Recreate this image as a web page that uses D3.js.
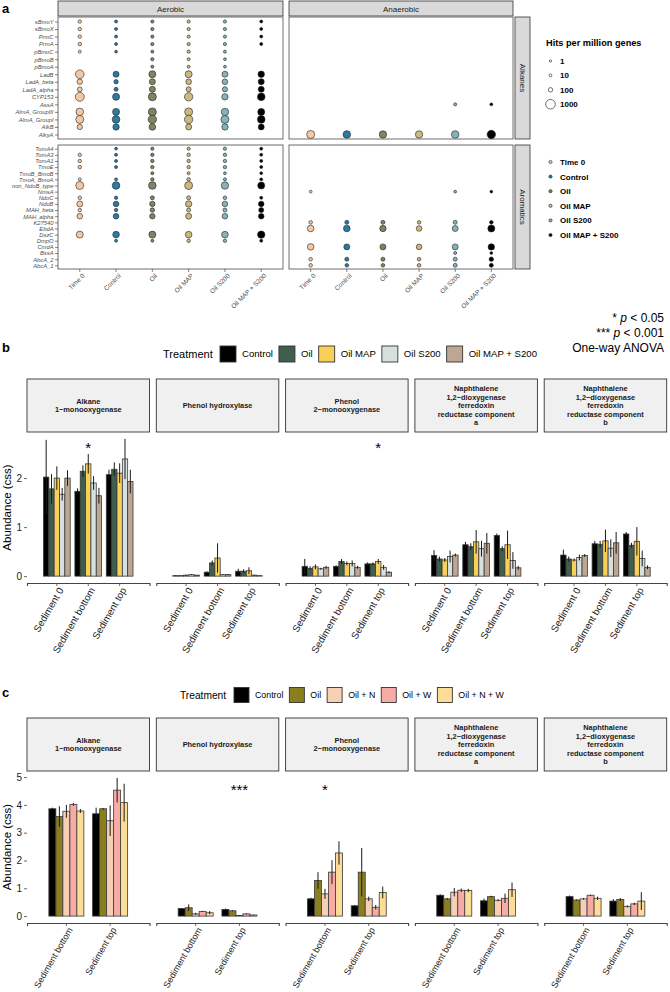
<!DOCTYPE html>
<html><head><meta charset="utf-8">
<script src="https://cdn.jsdelivr.net/npm/d3@7"></script>
<style>body{margin:0;background:#fff}svg{display:block}</style>
</head><body><svg id="chart" width="670" height="992"></svg>
<script>
// ---------------- DATA: panel a ----------------
const dotTreatments = ["Time 0","Control","Oil","Oil MAP","Oil S200","Oil MAP + S200"];
const dotColors = ["#F4C8A3","#2B7BA1","#7E8562","#CDB87F","#86B3B8","#000000"];
const conditions = ["Aerobic","Anaerobic"];
const geneGroups = ["Alkanes","Aromatics"];
const sizeBreaks = [1,10,100,1000];
const alkaneGenes = ["sBmoY","sBmoX","PrmC","PrmA","pBmoC","pBmoB","pBmoA","LadB","LadA_beta","LadA_alpha","CYP153","AssA","AlmA_GroupIII","AlmA_GroupI","AlkB","AlkyA"];
const aromaticGenes = ["TomA4","TomA3","TomA1","TmoE","TmoB_BmoB","TmoA_BmoA","non_NdoB_type","NmsA","NdoC","NdoB","MAH_beta","MAH_alpha","K27540","EbdA","DszC","DmpO","CmdA","BssA","AbcA_2","AbcA_1"];
// hits per million genes; rows = genes, columns = dotTreatments; null = not detected
const aerobicAlkanes = [
 [34,17,25,25,25,17],[34,17,25,25,25,17],[34,17,25,25,25,17],[44,17,25,25,25,17],
 [17,11,17,25,17,null],[null,null,25,17,11,null],[null,null,17,17,11,null],
 [754,277,433,433,277,335],[200,100,277,224,224,277],[136,69,277,156,177,277],
 [848,433,623,709,335,543],[null,null,null,null,null,null],
 [543,433,623,623,505,433],[623,543,709,709,623,543],[200,335,366,277,335,277],
 [null,null,null,null,null,null]];
const anaerobicAlkanes = [
 [null,null,null,null,null,null],[null,null,null,null,null,null],[null,null,null,null,null,null],[null,null,null,null,null,null],
 [null,null,null,null,null,null],[null,null,null,null,null,null],[null,null,null,null,null,null],
 [null,null,null,null,null,null],[null,null,null,null,null,null],[null,null,null,null,null,null],
 [null,null,null,null,null,null],[null,null,null,null,20,15],
 [null,null,null,null,null,null],[null,null,null,null,null,null],[null,null,null,null,null,null],
 [623,543,505,505,543,709]];
const aerobicAromatics = [
 [null,11,25,25,30,17],[34,17,34,34,34,17],[34,17,34,34,34,17],[44,17,34,34,34,17],
 [null,null,17,17,11,11],[17,17,34,44,25,17],[623,543,543,623,505,433],
 [null,null,null,null,null,null],[44,34,69,69,44,17],[277,224,200,335,224,224],
 [34,34,100,69,69,156],[224,224,200,277,224,224],[null,null,null,null,null,null],
 [null,null,null,null,null,null],[433,366,433,366,366,505],[null,17,17,44,34,17],
 [null,null,null,null,null,null],[null,null,null,null,null,null],[null,null,null,null,null,null],[null,null,null,null,null,null]];
const anaerobicAromatics = [
 [null,null,null,null,null,null],[null,null,null,null,null,null],[null,null,null,null,null,null],[null,null,null,null,null,null],
 [null,null,null,null,null,null],[null,null,null,null,null,null],[null,null,null,null,null,null],
 [11,null,null,null,11,8],[null,null,null,null,null,null],[null,null,null,null,null,null],
 [null,null,null,null,null,null],[null,null,null,null,null,null],[44,69,69,44,69,44],
 [366,366,335,224,277,433],[null,null,null,null,null,null],[null,null,null,null,null,null],
 [366,277,277,224,277,335],[null,null,null,null,17,11],[44,69,69,44,69,100],[44,44,44,44,69,69]];

// ---------------- DATA: panels b and c ----------------
const enzymes = [["Alkane","1\u2212monooxygenase"],["Phenol hydroxylase"],["Phenol","2\u2212monooxygenase"],
 ["Naphthalene","1,2\u2212dioxygenase","ferredoxin","reductase component","a"],
 ["Naphthalene","1,2\u2212dioxygenase","ferredoxin","reductase component","b"]];
const bTreatments = ["Control","Oil","Oil MAP","Oil S200","Oil MAP + S200"];
const bColors = ["#000000","#3F5E4D","#F8CF58","#D6E0DF","#BEA792"];
const bSites = ["Sediment 0","Sediment bottom","Sediment top"];
// [enzyme][site][treatment]
const bMean = [
 [[2.02,1.78,2.0,1.67,2.0],[1.73,2.14,2.29,1.9,1.64],[2.07,2.18,2.1,2.39,1.93]],
 [[0.01,0.01,0.02,0.03,0.02],[0.08,0.27,0.37,0.03,0.03],[0.1,0.1,0.11,0.02,0.01]],
 [[0.2,0.16,0.19,0.15,0.18],[0.2,0.3,0.26,0.26,0.18],[0.25,0.25,0.3,0.18,0.08]],
 [[0.42,0.35,0.33,0.4,0.43],[0.64,0.6,0.7,0.56,0.67],[0.83,0.56,0.64,0.32,0.17]],
 [[0.43,0.35,0.33,0.38,0.42],[0.66,0.65,0.72,0.57,0.68],[0.86,0.63,0.71,0.36,0.18]]];
const bSE = [
 [[0.76,0.3,0.24,0.13,0.16],[0.06,0.12,0.2,0.14,0.16],[0.1,0.14,0.2,0.41,0.24]],
 [[0.005,0.005,0.01,0.01,0.005],[0.02,0.05,0.3,0.01,0.01],[0.05,0.04,0.07,0.01,0.005]],
 [[0.15,0.04,0.05,0.02,0.03],[0.02,0.05,0.04,0.06,0.03],[0.03,0.03,0.05,0.05,0.02]],
 [[0.11,0.05,0.04,0.12,0.03],[0.06,0.07,0.24,0.16,0.21],[0.04,0.05,0.29,0.17,0.04]],
 [[0.11,0.05,0.03,0.06,0.03],[0.06,0.07,0.23,0.18,0.22],[0.04,0.05,0.29,0.16,0.04]]];
const bSignif = [{enzyme:0, site:"Sediment bottom", label:"*"},{enzyme:2, site:"Sediment top", label:"*"}];

const cTreatments = ["Control","Oil","Oil + N","Oil + W","Oil + N + W"];
const cColors = ["#000000","#8B7E1F","#F6CFB4","#F6ACA5","#FDDC98"];
const cSites = ["Sediment bottom","Sediment top"];
const cMean = [
 [[3.86,3.58,3.77,4.02,3.78],[3.68,3.86,3.43,4.53,4.08]],
 [[0.27,0.3,0.08,0.17,0.12],[0.24,0.19,0.02,0.08,0.04]],
 [[0.62,1.28,0.8,1.58,2.27],[0.37,1.58,0.62,0.32,0.85]],
 [[0.75,0.62,0.86,0.93,0.92],[0.55,0.7,0.57,0.64,0.95]],
 [[0.7,0.58,0.62,0.75,0.64],[0.54,0.6,0.35,0.44,0.54]]];
const cSE = [
 [[0.04,0.37,0.23,0.05,0.07],[0.22,0.03,0.55,0.44,0.68]],
 [[0.02,0.12,0.04,0.02,0.06],[0.03,0.02,0.01,0.02,0.01]],
 [[0.04,0.3,0.18,0.43,0.42],[0.03,0.87,0.08,0.08,0.21]],
 [[0.03,0.03,0.15,0.06,0.06],[0.08,0.03,0.04,0.17,0.26]],
 [[0.04,0.02,0.03,0.02,0.06],[0.07,0.05,0.04,0.04,0.32]]];
const cSignif = [{enzyme:1, site:"Sediment top", label:"***"},{enzyme:2, site:"Sediment bottom", label:"*"}];

// ---------------- DRAWING ----------------
const FONT = "'Liberation Sans', Arial, Helvetica, sans-serif";
const svg = d3.select("#chart").style("font-family", FONT);

// panel labels
[["a",13],["b",352],["c",697]].forEach(([t,y]) => svg.append("text").attr("x",2).attr("y",y)
  .attr("font-size",13).attr("font-weight","bold").text(t));

// ===== Panel a =====
const condX = [[58,283],[289,513]];
const groupY = [[17,139],[145,269]];
const groupGenes = [alkaneGenes, aromaticGenes];
const groupData = [[aerobicAlkanes, anaerobicAlkanes],[aerobicAromatics, anaerobicAromatics]];
const rScale = d3.scaleSqrt().domain([0,1000]).range([1,4.8]);
const aG = svg.append("g");

conditions.forEach((cond, ci) => {
  const [x0,x1] = condX[ci];
  const xs = d3.scalePoint().domain(dotTreatments).range([x0,x1]).padding(0.6);
  aG.append("rect").attr("x",x0).attr("y",1).attr("width",x1-x0).attr("height",15)
    .attr("fill","#D9D9D9").attr("stroke","#333").attr("stroke-width",0.8);
  aG.append("text").attr("x",(x0+x1)/2).attr("y",11.5).attr("text-anchor","middle")
    .attr("font-size",8).attr("fill","#1a1a1a").text(cond);
  geneGroups.forEach((grp, gi) => {
    const [y0,y1] = groupY[gi];
    const ys = d3.scalePoint().domain(groupGenes[gi]).range([y0,y1]).padding(0.6);
    const g = aG.append("g");
    g.append("rect").attr("x",x0).attr("y",y0).attr("width",x1-x0).attr("height",y1-y0)
      .attr("fill","#fff").attr("stroke","#6e6e6e").attr("stroke-width",1);
    const pts = [];
    groupGenes[gi].forEach((gene, ri) => dotTreatments.forEach((t, ti) => {
      const v = groupData[gi][ci][ri][ti];
      if (v != null) pts.push({gene, t, ti, v});
    }));
    g.selectAll("circle").data(pts).join("circle")
      .attr("cx",d=>xs(d.t)).attr("cy",d=>ys(d.gene)).attr("r",d=>rScale(d.v))
      .attr("fill",d=>dotColors[d.ti]).attr("stroke","#222").attr("stroke-width",0.6);
    if (ci === 0) {
      const ax = g.append("g").attr("transform",`translate(${x0},0)`)
        .call(d3.axisLeft(ys).tickSize(3).tickPadding(1.5));
      ax.select(".domain").remove();
      ax.selectAll(".tick line").attr("stroke","#333").attr("stroke-width",0.6);
      ax.selectAll(".tick text").attr("font-size",5.8).attr("font-style","italic")
        .attr("fill","#4d4d4d").attr("font-family",FONT);
    }
    if (gi === 1) {
      g.selectAll(".xt").data(dotTreatments).join("line").attr("class","xt")
        .attr("x1",d=>xs(d)).attr("x2",d=>xs(d)).attr("y1",y1).attr("y2",y1+3)
        .attr("stroke","#333").attr("stroke-width",0.6);
      g.selectAll(".xl").data(dotTreatments).join("text").attr("class","xl")
        .attr("transform",d=>`translate(${xs(d)+2},${y1+4}) rotate(-45)`)
        .attr("dy","0.71em").attr("text-anchor","end").attr("font-size",6.5)
        .attr("fill","#4d4d4d").text(d=>d);
    }
    if (ci === 1) {
      aG.append("rect").attr("x",515).attr("y",y0).attr("width",15).attr("height",y1-y0)
        .attr("fill","#D9D9D9").attr("stroke","#333").attr("stroke-width",0.8);
      aG.append("text").attr("transform",`translate(519.5,${(y0+y1)/2}) rotate(90)`)
        .attr("text-anchor","middle").attr("font-size",8).attr("fill","#1a1a1a").text(grp);
    }
  });
});

// legends for panel a
const lg = svg.append("g").attr("font-weight","bold");
lg.append("text").attr("x",546).attr("y",46).attr("font-size",9.2).text("Hits per million genes");
sizeBreaks.forEach((b,i) => {
  const y = 61 + i*14.4;
  lg.append("circle").attr("cx",550.5).attr("cy",y).attr("r",rScale(b)).attr("fill","#fff")
    .attr("stroke","#333").attr("stroke-width",0.7);
  lg.append("text").attr("x",560).attr("y",y+3).attr("font-size",8).text(b);
});
dotTreatments.forEach((t,i) => {
  const y = 162 + i*14.6;
  lg.append("circle").attr("cx",550.5).attr("cy",y).attr("r",1.6).attr("fill",dotColors[i])
    .attr("stroke","#222").attr("stroke-width",0.6);
  lg.append("text").attr("x",560).attr("y",y+3).attr("font-size",8).text(t);
});

// significance note
const sg = svg.append("g").attr("font-size",12).attr("text-anchor","end");
[["*","0.05",322],["***","0.001",337]].forEach(([s,p,y]) => {
  const t = sg.append("text").attr("x",664).attr("y",y);
  t.append("tspan").text(s+" ");
  t.append("tspan").attr("font-style","italic").text("p");
  t.append("tspan").text(" < "+p);
});
sg.append("text").attr("x",664).attr("y",352).text("One-way ANOVA");

// ===== Bar panels b and c =====
function barPanel(o) {
  const g = svg.append("g");
  // legend
  g.append("text").attr("x",o.legX).attr("y",o.legY+4).attr("font-size",o.legTitleSize).text("Treatment");
  let lx = o.legX + o.legTitleW;
  o.treatments.forEach((t,i) => {
    g.append("rect").attr("x",lx).attr("y",o.legY-o.key/2).attr("width",o.key).attr("height",o.key)
      .attr("fill",o.colors[i]).attr("stroke","#333").attr("stroke-width",0.9);
    const tx = g.append("text").attr("x",lx+o.key+6).attr("y",o.legY+3.3).attr("font-size",o.legSize).text(t);
    lx += o.key + 6 + tx.node().getComputedTextLength() + 6;
  });
  const maxV = d3.max(o.mean.flat(2).map((m,k)=>m + o.se.flat(2)[k]));
  const y = d3.scaleLinear().domain([-0.05*maxV, maxV*1.05]).range([o.py1, o.py0]);
  const fx0 = 27, fstep = 129.3, fw = 122.5;
  enzymes.forEach((enz, ei) => {
    const x0 = fx0 + ei*fstep, x1 = x0 + fw;
    // strip
    g.append("rect").attr("x",x0).attr("y",o.sy0).attr("width",fw).attr("height",o.py0-o.sy0)
      .attr("fill","#F0F0F0").attr("stroke","#333").attr("stroke-width",0.9);
    const sc = (o.sy0+o.py0)/2;
    enz.forEach((line, li) => g.append("text").attr("x",(x0+x1)/2)
      .attr("y", sc + (li - (enz.length-1)/2)*8.6 + 2.6).attr("text-anchor","middle")
      .attr("font-size",7.4).attr("font-weight","bold").attr("fill","#1a1a1a").text(line));
    const xb = d3.scaleBand().domain(o.sites).range([x0,x1]).paddingInner(1-o.bw).paddingOuter((1.2-(1-o.bw))/2);
    const xt = d3.scaleBand().domain(o.treatments).range([0, xb.bandwidth()]);
    const bars = [];
    o.sites.forEach((s,si) => o.treatments.forEach((t,ti) =>
      bars.push({s,t,ti,m:o.mean[ei][si][ti],e:o.se[ei][si][ti]})));
    g.append("g").selectAll("rect").data(bars).join("rect")
      .attr("x",d=>xb(d.s)+xt(d.t)).attr("width",xt.bandwidth())
      .attr("y",d=>y(d.m)).attr("height",d=>y(0)-y(d.m))
      .attr("fill",d=>o.colors[d.ti]).attr("stroke","#3a3a3a").attr("stroke-width",0.8);
    g.append("g").selectAll("line").data(bars).join("line")
      .attr("x1",d=>xb(d.s)+xt(d.t)+xt.bandwidth()/2).attr("x2",d=>xb(d.s)+xt(d.t)+xt.bandwidth()/2)
      .attr("y1",d=>y(Math.max(0,d.m-d.e))).attr("y2",d=>y(d.m+d.e))
      .attr("stroke","#1a1a1a").attr("stroke-width",1);
    // x axis
    const ax = g.append("g").attr("transform",`translate(0,${o.py1})`)
      .call(d3.axisBottom(xb).tickSizeOuter(0).tickSize(3).tickFormat(""));
    ax.select(".domain").attr("stroke","#444").attr("stroke-width",1.1);
    ax.selectAll(".tick line").attr("stroke","#444").attr("stroke-width",0.8);
    o.sites.forEach(s => g.append("text")
      .attr("transform",`translate(${xb(s)+xb.bandwidth()/2+1},${o.py1+3.5}) rotate(-60)`)
      .attr("dy","0.71em").attr("text-anchor","end").attr("font-size",o.xSize).attr("fill","#1a1a1a").text(s));
    // y axis on first facet
    if (ei === 0) {
      const ay = g.append("g").attr("transform",`translate(${x0},0)`)
        .call(d3.axisLeft(y).tickValues(o.ticks).tickFormat(d3.format("d")).tickSize(3).tickPadding(2));
      ay.select(".domain").remove();
      ay.selectAll(".tick line").attr("stroke","#444").attr("stroke-width",0.8);
      ay.selectAll(".tick text").attr("font-size",10).attr("fill","#1a1a1a").attr("font-family",FONT);
      g.append("text").attr("transform",`translate(11,${(o.py0+o.py1)/2}) rotate(-90)`)
        .attr("text-anchor","middle").attr("font-size",11.5).text("Abundance (css)");
    }
    o.signif.filter(d=>d.enzyme===ei).forEach(d => g.append("text")
      .attr("x",xb(d.site)+xb.bandwidth()/2).attr("y",o.py0+o.sigOff).attr("text-anchor","middle")
      .attr("font-size",15).text(d.label));
  });
}

barPanel({treatments:bTreatments, colors:bColors, sites:bSites, mean:bMean, se:bSE, signif:bSignif,
  legX:163, legY:354, legTitleW:57, legTitleSize:11, legSize:9.6, key:16, xSize:9.8,
  sy0:379, py0:432, py1:583, ticks:[0,1,2], bw:0.85, sigOff:21});
barPanel({treatments:cTreatments, colors:cColors, sites:cSites, mean:cMean, se:cSE, signif:cSignif,
  legX:180, legY:695, legTitleW:54, legTitleSize:10.2, legSize:8.8, key:15, xSize:9,
  sy0:718, py0:771, py1:923, ticks:[0,1,2,3,4,5], bw:0.8, sigOff:24});
</script></body></html>
